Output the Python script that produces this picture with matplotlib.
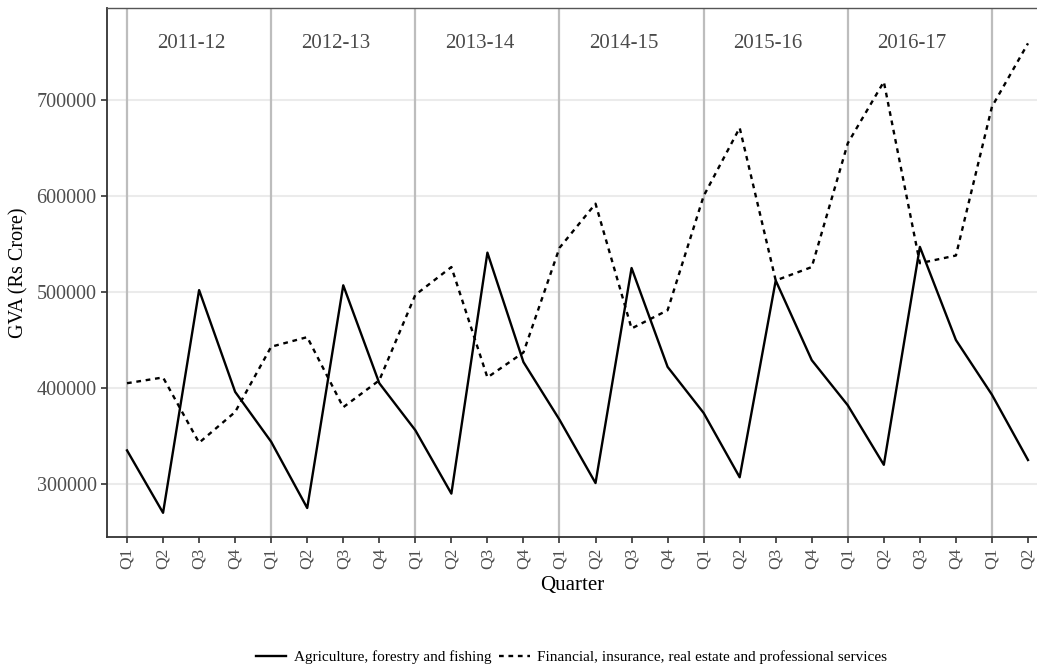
import matplotlib.pyplot as plt

# Données (GVA trimestriel, Rs crore)
annees = ["2011-12", "2012-13", "2013-14", "2014-15", "2015-16", "2016-17"]
trimestres = ["Q1", "Q2", "Q3", "Q4"] * 6 + ["Q1", "Q2"]

agriculture = [335000, 270000, 502000, 396000,
               344000, 275000, 507000, 405000,
               356000, 290000, 541000, 427000,
               367000, 301000, 525000, 422000,
               374000, 307000, 512000, 429000,
               382000, 320000, 547000, 450000,
               393000, 325000]

finance = [405000, 411000, 343000, 375000,
           443000, 453000, 380000, 408000,
           497000, 526000, 411000, 437000,
           546000, 592000, 462000, 481000,
           600000, 671000, 512000, 526000,
           655000, 719000, 530000, 538000,
           693000, 759000]

plt.rcParams['font.family'] = ['Liberation Serif', 'DejaVu Serif']

fig = plt.figure(figsize=(10.37, 6.69), dpi=100)
ax = fig.add_axes([0.1032, 0.1973, 0.8968, 0.7907])

x = list(range(len(trimestres)))

# grille horizontale claire
for v in [300000, 400000, 500000, 600000, 700000]:
    ax.axhline(v, color='#ebebeb', lw=1.5, zorder=0)
# séparation des années
for i in range(0, len(trimestres), 4):
    ax.axvline(i, color='#bdbdbd', lw=1.6, zorder=1)

ax.plot(x, agriculture, color='black', lw=1.7, ls='-',
        label="Agriculture, forestry and fishing", zorder=3)
ax.plot(x, finance, color='black', lw=1.7, ls=(0, (2.0, 2.0)),
        label="Financial, insurance, real estate and professional services", zorder=3)

for k, a in enumerate(annees):
    ax.text(1.78 + 4 * k, 759000, a, ha='center', va='center',
            fontsize=15, color='#4a4a4a')

ax.set_xlim(-0.555, 25.25)
ax.set_ylim(244800, 795800)
ax.set_xticks(x)
ax.set_xticklabels(trimestres, rotation=90, fontsize=12.5, color='#4d4d4d')
ax.set_yticks([300000, 400000, 500000, 600000, 700000])
ax.set_yticklabels(["300000", "400000", "500000", "600000", "700000"],
                   fontsize=14.5, color='#4d4d4d')
ax.tick_params(axis='both', length=4, width=1.2, color='#333333')

for s in ['left', 'bottom']:
    ax.spines[s].set_color('#333333')
    ax.spines[s].set_linewidth(1.3)
ax.spines['top'].set_color('#555555')
ax.spines['top'].set_linewidth(1.0)
ax.spines['right'].set_visible(False)

ax.set_xlabel("Quarter", fontsize=15, color='black', labelpad=5)
ax.set_ylabel("GVA (Rs Crore)", fontsize=14.5, color='black', labelpad=6)

fig.legend(loc='center', bbox_to_anchor=(0.551, 0.018), ncol=2, frameon=False,
           fontsize=11, handlelength=2.0, columnspacing=0.5, handletextpad=0.5)

fig.savefig("out.png", dpi=100)
